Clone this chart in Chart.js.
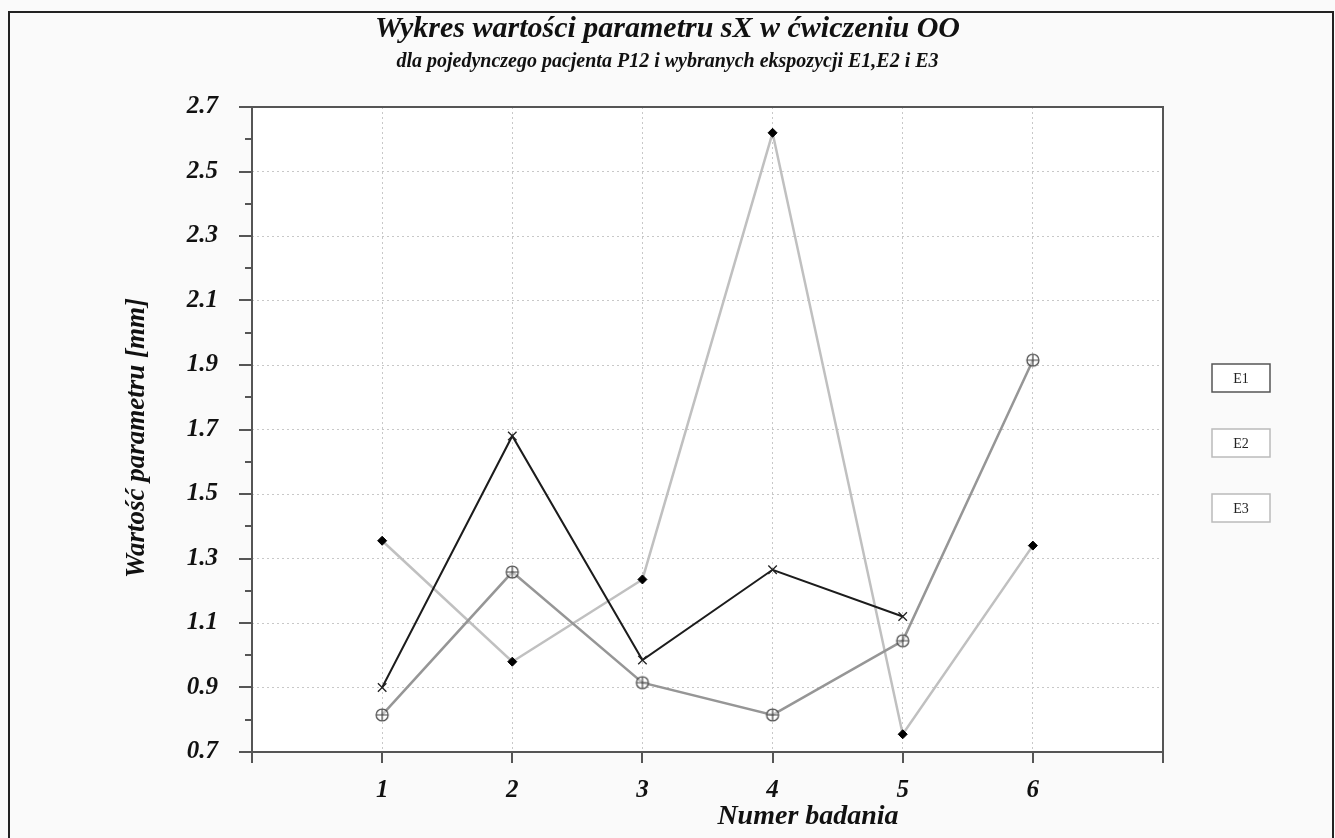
<!DOCTYPE html>
<html>
<head>
<meta charset="utf-8">
<script src="https://cdn.jsdelivr.net/npm/chart.js@4.4.0/dist/chart.umd.min.js"></script>
<style>
  html, body { margin: 0; padding: 0; background: #fafafa; }
  #wrap { width: 1335px; height: 838px; }
</style>
</head>
<body>
<div id="wrap"><canvas id="chart"></canvas></div>
<script>
// dane
const badania = [1, 2, 3, 4, 5, 6];
const e1 = [0.90, 1.68, 0.985, 1.265, 1.12];
const e2 = [0.815, 1.258, 0.915, 0.815, 1.045, 1.915];
const e3 = [1.355, 0.98, 1.235, 2.62, 0.755, 1.34];
const seriesNames = ["E1", "E2", "E3"];
const yTicks = [0.7, 0.9, 1.1, 1.3, 1.5, 1.7, 1.9, 2.1, 2.3, 2.5, 2.7];
const yMinorTicks = [0.8, 1.0, 1.2, 1.4, 1.6, 1.8, 2.0, 2.2, 2.4, 2.6];
const xTicks = [0, 1, 2, 3, 4, 5, 6, 7];
const tytul = "Wykres wartości parametru sX w ćwiczeniu OO";
const podtytul = "dla pojedynczego pacjenta P12 i wybranych ekspozycji E1,E2 i E3";
const tytulX = "Numer badania";
const tytulY = "Wartość parametru [mm]";

const SERIF = "'Liberation Serif', 'Times New Roman', serif";

const toPoints = vals => vals.map((v, i) => ({ x: badania[i], y: v }));

// marker: kolko z plusem
function circlePlus(r) {
  const c = document.createElement("canvas");
  const s = r * 2 + 4;
  c.width = s; c.height = s;
  const g = c.getContext("2d");
  const m = s / 2;
  g.strokeStyle = "#444";
  g.lineWidth = 1.2;
  g.fillStyle = "rgba(255,255,255,0.5)";
  g.beginPath(); g.arc(m, m, r, 0, Math.PI * 2); g.fill(); g.stroke();
  g.beginPath();
  g.moveTo(m - r, m); g.lineTo(m + r, m);
  g.moveTo(m, m - r); g.lineTo(m, m + r);
  g.stroke();
  return c;
}

const ramka = {
  id: "ramka",
  beforeDraw(chart) {
    const { ctx, chartArea: a } = chart;
    ctx.save();
    ctx.fillStyle = "#fafafa";
    ctx.fillRect(0, 0, chart.width, chart.height);
    ctx.fillStyle = "#ffffff";
    ctx.fillRect(a.left, a.top, a.right - a.left, a.bottom - a.top);
    ctx.restore();
  },
  afterDraw(chart) {
    const { ctx, chartArea: a, scales } = chart;
    ctx.save();
    // obramowanie obszaru wykresu
    ctx.strokeStyle = "#555";
    ctx.lineWidth = 2;
    ctx.strokeRect(a.left, a.top, a.right - a.left, a.bottom - a.top);
    // podzialki
    ctx.beginPath();
    yTicks.forEach(v => {
      const y = Math.round(scales.y.getPixelForValue(v));
      ctx.moveTo(a.left - 13, y); ctx.lineTo(a.left, y);
    });
    yMinorTicks.forEach(v => {
      const y = Math.round(scales.y.getPixelForValue(v));
      ctx.moveTo(a.left - 7, y); ctx.lineTo(a.left, y);
    });
    xTicks.forEach(v => {
      const x = Math.round(scales.x.getPixelForValue(v));
      ctx.moveTo(x, a.bottom); ctx.lineTo(x, a.bottom + 11);
    });
    ctx.stroke();

    // zewnetrzna ramka
    ctx.strokeStyle = "#222";
    ctx.lineWidth = 2;
    ctx.strokeRect(9, 12, 1324, 900);

    // tytuly
    ctx.fillStyle = "#111";
    ctx.textAlign = "center";
    ctx.textBaseline = "middle";
    ctx.font = "bold italic 30px " + SERIF;
    ctx.fillText(tytul, chart.width / 2, 29);
    ctx.font = "bold italic 20px " + SERIF;
    ctx.fillText(podtytul, chart.width / 2, 62);

    // tytuly osi
    ctx.font = "bold italic 28px " + SERIF;
    ctx.fillText(tytulX, 808, 817);
    ctx.save();
    ctx.translate(137, 438);
    ctx.rotate(-Math.PI / 2);
    ctx.font = "bold italic 27px " + SERIF;
    ctx.fillText(tytulY, 0, 0);
    ctx.restore();

    // legenda
    seriesNames.forEach((name, i) => {
      const bx = 1212, by = 364 + i * 65, bw = 58, bh = 28;
      ctx.fillStyle = "#fff";
      ctx.fillRect(bx, by, bw, bh);
      ctx.strokeStyle = i === 0 ? "#555" : "#bbb";
      ctx.lineWidth = 1.5;
      ctx.strokeRect(bx, by, bw, bh);
      ctx.fillStyle = "#222";
      ctx.font = "14px " + SERIF;
      ctx.fillText(name, bx + bw / 2, by + bh / 2 + 1);
    });
    ctx.restore();
  }
};

const tickFont = { family: SERIF, size: 25, weight: "bold", style: "italic" };

new Chart(document.getElementById("chart"), {
  type: "line",
  data: {
    datasets: [
      {
        label: seriesNames[0],
        data: toPoints(e1),
        borderColor: "#1c1c1c",
        borderWidth: 2,
        pointStyle: "crossRot",
        pointRadius: 6,
        pointBorderColor: "#222",
        pointBorderWidth: 1.3,
        tension: 0
      },
      {
        label: seriesNames[1],
        data: toPoints(e2),
        borderColor: "#969696",
        borderWidth: 2.5,
        pointStyle: circlePlus(6),
        tension: 0
      },
      {
        label: seriesNames[2],
        data: toPoints(e3),
        borderColor: "#c0c0c0",
        borderWidth: 2.5,
        pointStyle: "rectRot",
        pointRadius: 4.5,
        pointBackgroundColor: "#000",
        pointBorderColor: "#000",
        pointBorderWidth: 1,
        tension: 0
      }
    ]
  },
  options: {
    responsive: true,
    maintainAspectRatio: false,
    animation: false,
    layout: { padding: { left: 0, right: 172, top: 107, bottom: 0 } },
    plugins: {
      legend: { display: false },
      tooltip: { enabled: false }
    },
    scales: {
      x: {
        type: "linear",
        min: 0,
        max: 7,
        afterBuildTicks: s => { s.ticks = xTicks.map(v => ({ value: v })); },
        afterFit: s => { s.height = 86; },
        ticks: {
          callback: v => badania.includes(v) ? String(v) : "",
          font: tickFont,
          color: "#111",
          padding: 24,
          maxRotation: 0
        },
        grid: {
          color: c => (c.tick && badania.includes(c.tick.value)) ? "#c8c8c8" : "rgba(0,0,0,0)",
          lineWidth: 1,
          drawTicks: false
        },
        border: { display: false, dash: [2, 3] }
      },
      y: {
        min: 0.7,
        max: 2.7,
        afterBuildTicks: s => { s.ticks = yTicks.map(v => ({ value: v })); },
        afterFit: s => { s.width = 252; },
        ticks: {
          callback: v => v.toFixed(1),
          font: tickFont,
          color: "#111",
          padding: 34
        },
        grid: {
          color: c => (c.tick && c.tick.value > 0.75 && c.tick.value < 2.65) ? "#c8c8c8" : "rgba(0,0,0,0)",
          lineWidth: 1,
          drawTicks: false
        },
        border: { display: false, dash: [2, 3] }
      }
    }
  },
  plugins: [ramka]
});
</script>
</body>
</html>
